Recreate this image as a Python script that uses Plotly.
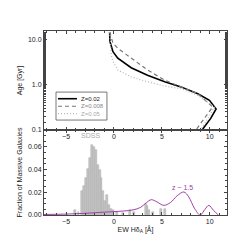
import plotly.graph_objects as go

# Top panel: Age vs EW Hdelta_A for three metallicities
ew_z02 = [-0.45, -0.42, -0.1, 0.4, 1.8, 3.5, 5.3, 7.0, 8.75, 9.97, 10.66, 10.1, 9.27, 9.2]
age_z02 = [14.3, 8.9, 5.3, 3.8, 2.35, 1.6, 1.15, 0.89, 0.63, 0.45, 0.29, 0.18, 0.105, 0.1]
ew_z008 = [-0.45, -0.1, 0.4, 1.8, 3.5, 5.3, 7.0, 8.75, 10.3, 9.45, 8.6, 8.55]
age_z008 = [14.3, 8.2, 6.3, 3.8, 2.1, 1.25, 0.89, 0.63, 0.32, 0.18, 0.105, 0.1]
ew_z05 = [-0.45, -0.28, -0.1, 0.4, 1.8, 3.5, 5.3, 7.0, 8.75, 10.5, 9.8, 9.1, 9.05]
age_z05 = [14.3, 4.5, 3.2, 2.1, 1.48, 1.15, 0.93, 0.81, 0.58, 0.32, 0.18, 0.105, 0.1]

# Bottom panel: SDSS histogram
hist_centers = [-4.1, -3.7, -3.3, -3.1, -2.9, -2.7, -2.5, -2.3, -2.1, -1.9, -1.7, -1.5,
                -1.3, -1.1, -0.9, -0.7, -0.5, -0.3, -0.1, 0.3, 0.9, 1.7, 2.1, 3.3, 3.5,
                3.7, 4.1, 4.9, 5.3]
hist_frac = [0.004, 0.003, 0.021, 0.026, 0.033, 0.041, 0.050, 0.062, 0.060, 0.057, 0.044,
             0.040, 0.033, 0.021, 0.012, 0.018, 0.009, 0.005, 0.004, 0.003, 0.002, 0.004,
             0.003, 0.010, 0.008, 0.004, 0.003, 0.005, 0.005]

# z~1.5 distribution
z15_ew = [-7.3, -5, -3, -1, 0, 1, 2, 2.8, 3.4, 3.9, 4.5, 5.2, 5.9, 6.6, 7.3, 7.8, 8.4,
          9.0, 9.5, 9.9, 10.4, 10.9]
z15_frac = [0.0005, 0.0008, 0.0015, 0.0025, 0.003, 0.0035, 0.0045, 0.0068, 0.011, 0.0135,
            0.0115, 0.0085, 0.011, 0.017, 0.0203, 0.016, 0.006, 0.0, 0.005, 0.0085, 0.004, 0.0]

xticks = [-5, 0, 5, 10]
font = "Liberation Sans, Arial, sans-serif"
axcol = "#444444"

fig = go.Figure()
fig.add_trace(go.Scatter(x=ew_z02, y=age_z02, mode="lines", xaxis="x", yaxis="y",
                         line=dict(color="black", width=1.6), showlegend=False))
fig.add_trace(go.Scatter(x=ew_z008, y=age_z008, mode="lines", xaxis="x", yaxis="y",
                         line=dict(color="#777777", width=1.2, dash="4px,3px"), showlegend=False))
fig.add_trace(go.Scatter(x=ew_z05, y=age_z05, mode="lines", xaxis="x", yaxis="y",
                         line=dict(color="#b8b8b8", width=1.2, dash="1px,2px"), showlegend=False))

fig.add_trace(go.Bar(x=hist_centers, y=hist_frac, width=0.2, xaxis="x2", yaxis="y2",
                     marker=dict(color="#c4c4c4", line=dict(color="#a8a8a8", width=0.5)),
                     showlegend=False))
fig.add_trace(go.Scatter(x=z15_ew, y=z15_frac, mode="lines", xaxis="x2", yaxis="y2",
                         line=dict(color="#a040a8", width=1.0, shape="spline"), showlegend=False))

split = 0.462
common_x = dict(range=[-7.3, 11.8], tickvals=xticks, ticks="inside", ticklen=3,
                mirror="allticks", showline=True, linecolor=axcol, linewidth=1,
                tickcolor=axcol, showgrid=False, zeroline=False, automargin=False,
                minor=dict(dtick=1, ticks="inside", ticklen=2, tickcolor=axcol),
                tickfont=dict(size=7, color="#222"))
fig.update_layout(
    width=243, height=243, margin=dict(l=36, r=24, t=23, b=36),
    paper_bgcolor="white", plot_bgcolor="white",
    font=dict(family=font, size=7, color="#222"),
    bargap=0,
    xaxis=dict(common_x, anchor="y", domain=[0, 1]),
    yaxis=dict(type="log", range=[-1, 1.18], domain=[split, 1], anchor="x",
               tickvals=[0.1, 1, 10], ticktext=["0.1", "1.0", "10.0"],
               ticks="inside", ticklen=3, mirror="allticks", showline=True,
               linecolor=axcol, tickcolor=axcol, showgrid=False, zeroline=False,
               automargin=False,
               minor=dict(ticks="inside", ticklen=2, tickcolor=axcol, showgrid=False),
               tickfont=dict(size=7, color="#222"),
               title=dict(text="Age [Gyr]", font=dict(size=7), standoff=4)),
    xaxis2=dict(common_x, anchor="y2", domain=[0, 1],
                title=dict(text="EW Hδ<sub>A</sub> [Å]", font=dict(size=7), standoff=2)),
    yaxis2=dict(range=[0, 0.075], domain=[0, split], anchor="x2",
                tickvals=[0, 0.02, 0.04, 0.06], ticktext=["0.00", "0.02", "0.04", "0.06"],
                ticks="inside", ticklen=3, mirror="allticks", showline=True,
                linecolor=axcol, tickcolor=axcol, showgrid=False, zeroline=False,
                automargin=False,
                minor=dict(dtick=0.005, ticks="inside", ticklen=2, tickcolor=axcol),
                tickfont=dict(size=7, color="#222"),
                title=dict(text="Fraction of Massive Galaxies", font=dict(size=7), standoff=4)),
)

fig.add_annotation(x=-2.4, y=0.0705, xref="x2", yref="y2", text="SDSS", showarrow=False,
                   font=dict(size=7, color="#aaaaaa"))
fig.add_annotation(x=7.2, y=0.0247, xref="x2", yref="y2", text="z ~ 1.5", showarrow=False,
                   font=dict(size=7, color="#a040a8"))

# Legend drawn manually
fig.add_shape(type="rect", xref="paper", yref="paper", x0=0.0656, x1=0.344, y0=0.516, y1=0.668,
              line=dict(color="#555555", width=0.8), fillcolor="white")
leg = [("Z=0.02", "black", "solid", 1.6, "#222222"),
       ("Z=0.008", "#777777", "4px,3px", 1.2, "#888888"),
       ("Z=0.05", "#b8b8b8", "1px,2px", 1.2, "#aaaaaa")]
rows = [0.632, 0.591, 0.551]
for (lab, col, dash, w, tcol), yy in zip(leg, rows):
    fig.add_shape(type="line", xref="paper", yref="paper", x0=0.0765, x1=0.18, y0=yy, y1=yy,
                  line=dict(color=col, width=w, dash=dash))
    fig.add_annotation(x=0.19, y=yy, xref="paper", yref="paper", text=lab, showarrow=False,
                       xanchor="left", font=dict(size=6, color=tcol))

fig.write_html("out.html")
